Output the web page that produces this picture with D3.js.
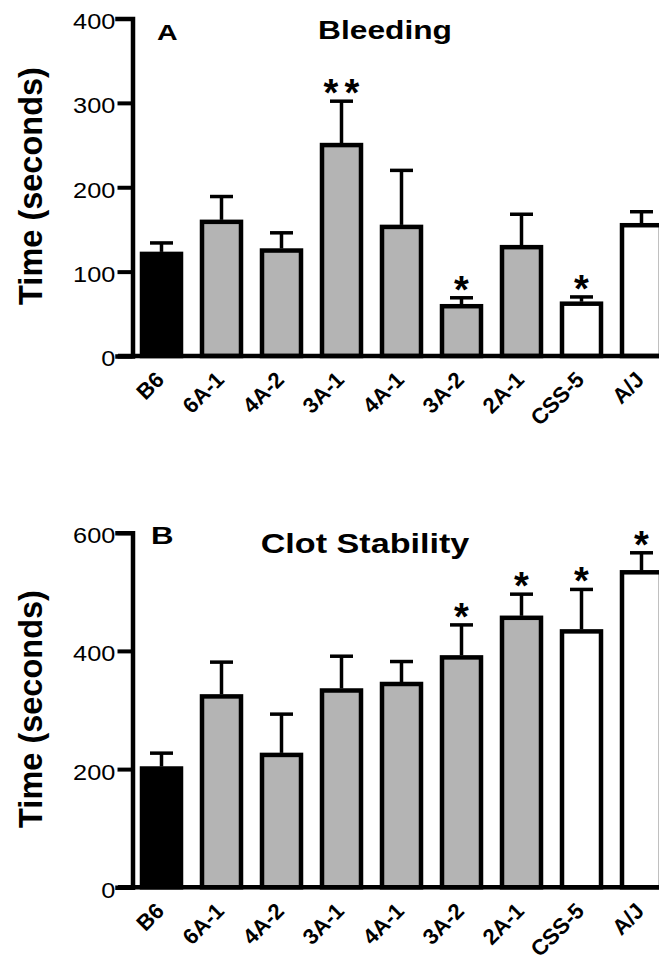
<!DOCTYPE html>
<html lang="en">
<head>
    <meta charset="UTF-8">
    <title>Bleeding and Clot Stability</title>
    <script src="https://d3js.org/d3.v7.min.js"></script>
    <style>
        body { margin: 0; overflow: hidden; background: #fff; }
        svg { display: block; font-family: "Liberation Sans", Arial, sans-serif; }
    </style>
</head>
<body>
    <svg id="chart"></svg>
    <script>
        // strains, same order in both panels
        const strains = ["B6", "6A-1", "4A-2", "3A-1", "4A-1", "3A-2", "2A-1", "CSS-5", "A/J"];
        const barFills = ["#000000", "#b4b4b4", "#b4b4b4", "#b4b4b4", "#b4b4b4", "#b4b4b4", "#b4b4b4", "#ffffff", "#ffffff"];

        // panel A - bleeding time (s), mean and SEM
        const bleedMean = [121, 159, 125, 250, 153, 59, 129, 62, 155];
        const bleedErr = [13, 30, 21, 52, 67, 10, 39, 8, 16];
        const bleedStars = ["", "", "", "**", "", "*", "", "*", ""];
        const bleedTicks = [0, 100, 200, 300, 400];

        // panel B - clot stability (s)
        const clotMean = [201, 323, 224, 333, 344, 389, 456, 433, 533];
        const clotErr = [26, 58, 69, 58, 38, 55, 40, 71, 33];
        const clotStars = ["", "", "", "", "", "*", "*", "*", "*"];
        const clotTicks = [0, 200, 400, 600];

        const width = 659, height = 962;
        const font = "'Liberation Sans', Arial, sans-serif";
        const svg = d3.select("#chart").attr("width", width).attr("height", height);

        const axisX = 132.5;
        const x = d3.scaleBand()
            .domain(strains)
            .range([131.5, 671.5])
            .paddingInner(0.35)
            .paddingOuter(0.175);

        function drawPanel(p) {
            const y = d3.scaleLinear().domain(p.domain).range(p.range);
            const g = svg.append("g");
            const y0 = y(0);

            // bars
            g.selectAll("rect.bar")
                .data(strains)
                .join("rect")
                .attr("class", "bar")
                .attr("x", d => x(d))
                .attr("width", x.bandwidth())
                .attr("y", (d, i) => y(p.mean[i]))
                .attr("height", (d, i) => y0 - y(p.mean[i]))
                .attr("fill", (d, i) => barFills[i])
                .attr("stroke", "#000")
                .attr("stroke-width", 4.5);

            // error bars (upper only)
            const cx = d => x(d) + x.bandwidth() / 2;
            g.selectAll("line.err")
                .data(strains)
                .join("line")
                .attr("x1", cx).attr("x2", cx)
                .attr("y1", (d, i) => y(p.mean[i]) - 2)
                .attr("y2", (d, i) => y(p.mean[i] + p.err[i]))
                .attr("stroke", "#000").attr("stroke-width", 3.5);
            g.selectAll("line.cap")
                .data(strains)
                .join("line")
                .attr("x1", d => cx(d) - 11.5).attr("x2", d => cx(d) + 11.5)
                .attr("y1", (d, i) => y(p.mean[i] + p.err[i]))
                .attr("y2", (d, i) => y(p.mean[i] + p.err[i]))
                .attr("stroke", "#000").attr("stroke-width", 3.5);

            // significance stars, each drawn separately
            strains.forEach((d, i) => {
                const n = p.stars[i].length;
                for (let k = 0; k < n; k++) {
                    const sx = cx(d) + (k - (n - 1) / 2) * 21;
                    g.append("text")
                        .attr("x", sx)
                        .attr("y", y(p.mean[i] + p.err[i]) - 16 + 21)
                        .attr("text-anchor", "middle")
                        .attr("font-family", font)
                        .attr("font-weight", "bold")
                        .attr("font-size", 38)
                        .text("*");
                }
            });

            // y axis
            const ya = g.append("g")
                .attr("transform", `translate(${axisX},0)`)
                .call(d3.axisLeft(y).tickValues(p.ticks).tickSize(15).tickSizeOuter(15).tickPadding(0));
            ya.select(".domain").attr("stroke-width", 4.5).attr("stroke-linecap", "square");
            ya.selectAll(".tick line").attr("stroke-width", 4);
            ya.selectAll(".tick text")
                .attr("font-family", font)
                .attr("font-size", 22)
                .attr("fill", "#000")
                .attr("dy", "0.45em")
                .attr("transform", "scale(1.15,1)");

            // x axis line
            g.append("line")
                .attr("x1", 118).attr("x2", width + 10)
                .attr("y1", y0).attr("y2", y0)
                .attr("stroke", "#000").attr("stroke-width", 4.5);

            // rotated category labels
            g.selectAll("text.xl")
                .data(strains)
                .join("text")
                .attr("transform", d => `translate(${cx(d) + 4},${y0 + 25}) rotate(-45)`)
                .attr("text-anchor", "end")
                .attr("font-family", font)
                .attr("font-weight", "bold")
                .attr("font-size", 22)
                .text(d => d);

            // y label
            g.append("text")
                .attr("transform", `translate(42,${p.labelY}) rotate(-90)`)
                .attr("text-anchor", "middle")
                .attr("font-family", font)
                .attr("font-weight", "bold")
                .attr("font-size", 32.5)
                .text("Time (seconds)");

            // panel letter and title (horizontally stretched like the source)
            g.append("text")
                .attr("transform", `translate(${p.letterX},${p.letterY}) scale(1.3,1)`)
                .attr("font-family", font)
                .attr("font-weight", "bold")
                .attr("font-size", p.letterSize)
                .text(p.letter);
            g.append("text")
                .attr("transform", `translate(${p.titleX},${p.titleY}) scale(1.22,1)`)
                .attr("text-anchor", "middle")
                .attr("font-family", font)
                .attr("font-weight", "bold")
                .attr("font-size", p.titleSize)
                .text(p.title);
        }

        drawPanel({
            domain: [0, 400], range: [356, 18.5],
            mean: bleedMean, err: bleedErr, stars: bleedStars, ticks: bleedTicks,
            labelY: 186, letter: "A", letterX: 157, letterY: 39.5, letterSize: 22,
            title: "Bleeding", titleX: 385, titleY: 38.5, titleSize: 26
        });

        drawPanel({
            domain: [0, 600], range: [887.3, 532.7],
            mean: clotMean, err: clotErr, stars: clotStars, ticks: clotTicks,
            labelY: 709, letter: "B", letterX: 151, letterY: 543.5, letterSize: 24,
            title: "Clot Stability", titleX: 365, titleY: 553, titleSize: 28
        });
    </script>
</body>
</html>
